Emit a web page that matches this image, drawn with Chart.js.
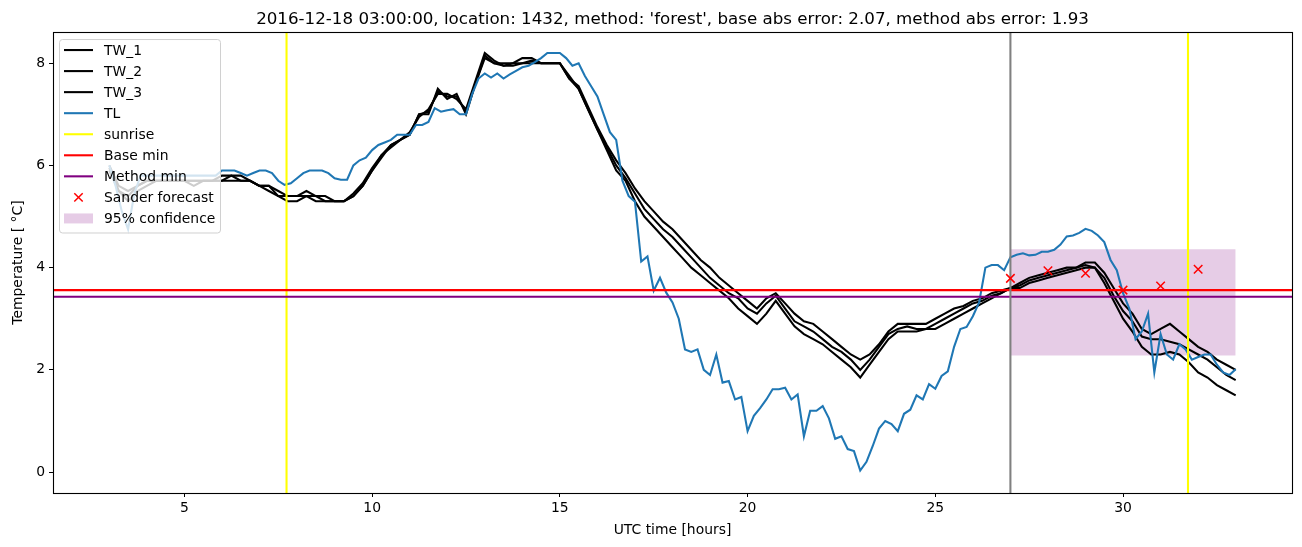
<!DOCTYPE html>
<html>
<head>
<meta charset="utf-8">
<script src="https://cdn.jsdelivr.net/npm/chart.js@4/dist/chart.umd.min.js"></script>
<style>
  body { margin: 0; background: #fff; }
  #wrap { width: 1302px; height: 547px; }
</style>
</head>
<body>
<div id="wrap"><canvas id="chart"></canvas></div>
<script>
const titleText = "2016-12-18 03:00:00, location: 1432, method: 'forest', base abs error: 2.07, method abs error: 1.93";
const xLabel = "UTC time [hours]";
const yLabel = "Temperature [ °C]";
const FONT = "DejaVu Sans";
const LW = 2.08; // 1.5pt at 100 dpi

// TW series: 15 minute samples from 3h to 33h (12 per row = 3 hours)
const twStart = 3;
const twStep = 0.25;

const tw1 = [
  6.0, 5.6, 5.5, 5.6,   5.7, 5.7, 5.7, 5.7,   5.7, 5.7, 5.7, 5.7,   // 3-5
  5.8, 5.8, 5.7, 5.7,   5.6, 5.6, 5.5, 5.4,   5.4, 5.5, 5.4, 5.4,   // 6-8
  5.3, 5.3, 5.45, 5.65, 5.95, 6.2, 6.4, 6.5,  6.6, 7.0, 7.05, 7.45, // 9-11
  7.35, 7.35, 7.05, 7.6, 8.15, 8.0, 7.95, 8.0, 8.1, 8.1, 8.0, 8.0,  // 12-14
  8.0, 7.7, 7.55, 7.15, 6.75, 6.4, 6.1, 5.85, 5.55, 5.3, 5.1, 4.9,  // 15-17
  4.75, 4.55, 4.35, 4.15, 4.0, 3.8, 3.65, 3.5, 3.35, 3.2, 3.4, 3.5, // 18-20
  3.3, 3.1, 2.95, 2.9,  2.75, 2.6, 2.45, 2.3, 2.2, 2.3, 2.5, 2.75,  // 21-23
  2.9, 2.9, 2.9, 2.9,   3.0, 3.1, 3.2, 3.25,  3.35, 3.4, 3.5, 3.55, // 24-26
  3.6, 3.7, 3.8, 3.85,  3.9, 3.95, 4.0, 4.0,  4.1, 4.1, 3.9, 3.6,   // 27-29
  3.3, 3.1, 2.8, 2.7,   2.8, 2.9, 2.75, 2.6,  2.45, 2.35, 2.2, 2.1, // 30-32
  2.0
];
const tw2 = [
  5.95, 5.5, 5.4, 5.6,  5.7, 5.7, 5.7, 5.7,   5.7, 5.7, 5.7, 5.7,
  5.7, 5.8, 5.8, 5.7,   5.6, 5.6, 5.4, 5.4,   5.4, 5.4, 5.4, 5.3,
  5.3, 5.3, 5.4, 5.6,   5.9, 6.15, 6.4, 6.5,  6.65, 6.95, 7.1, 7.4,
  7.4, 7.3, 7.1, 7.65,  8.2, 8.05, 7.95, 7.95, 8.0, 8.05, 8.0, 8.0,
  8.0, 7.75, 7.5, 7.1,  6.7, 6.35, 6.0, 5.75, 5.45, 5.15, 4.95, 4.75,
  4.6, 4.4, 4.2, 4.0,   3.8, 3.65, 3.5, 3.4,  3.2, 3.1, 3.3, 3.45,
  3.2, 2.95, 2.85, 2.75, 2.6, 2.45, 2.35, 2.2, 2.0, 2.2, 2.45, 2.7,
  2.8, 2.85, 2.8, 2.8,  2.9, 3.0, 3.1, 3.2,   3.3, 3.35, 3.45, 3.5,
  3.6, 3.65, 3.75, 3.8, 3.85, 3.9, 3.95, 4.0, 4.05, 4.0, 3.8, 3.45,
  3.15, 2.95, 2.65, 2.6, 2.6, 2.55, 2.5, 2.4, 2.3, 2.2, 2.05, 1.9,
  1.8
];
const tw3 = [
  5.9, 5.5, 5.3, 5.5,   5.6, 5.7, 5.7, 5.7,   5.7, 5.6, 5.7, 5.7,
  5.7, 5.7, 5.7, 5.7,   5.6, 5.5, 5.4, 5.3,   5.3, 5.4, 5.3, 5.3,
  5.3, 5.3, 5.4, 5.6,   5.9, 6.2, 6.35, 6.5,  6.6, 7.0, 7.0, 7.5,
  7.3, 7.4, 7.0, 7.6,   8.1, 8.0, 8.0, 8.0,   8.0, 8.0, 8.0, 8.0,
  8.0, 7.7, 7.5, 7.1,   6.7, 6.3, 5.9, 5.7,   5.3, 5.0, 4.8, 4.6,
  4.4, 4.2, 4.0, 3.85,  3.7, 3.55, 3.4, 3.2,  3.05, 2.9, 3.1, 3.35,
  3.1, 2.85, 2.7, 2.6,  2.5, 2.35, 2.2, 2.05, 1.85, 2.1, 2.35, 2.6,
  2.75, 2.75, 2.75, 2.8, 2.8, 2.9, 3.0, 3.1,  3.2, 3.3, 3.4, 3.5,
  3.6, 3.6, 3.7, 3.75,  3.8, 3.85, 3.9, 3.95, 4.0, 4.0, 3.7, 3.35,
  3.0, 2.75, 2.45, 2.3, 2.3, 2.35, 2.3, 2.15, 1.95, 1.85, 1.7, 1.6,
  1.5
];

// TL series: 10 minute samples from 3h to 33h (6 per row = 1 hour)
const tlStart = 3;
const tlStep = 1 / 6;
const tl = [
  6.0, 5.6, 5.1, 4.75, 5.45, 5.8,    // 3
  5.8, 5.8, 5.8, 5.8, 5.8, 5.8,      // 4
  5.8, 5.8, 5.8, 5.8, 5.8, 5.8,      // 5
  5.9, 5.9, 5.9, 5.85, 5.8, 5.85,    // 6
  5.9, 5.9, 5.85, 5.7, 5.62, 5.65,   // 7
  5.75, 5.85, 5.9, 5.9, 5.9, 5.85,   // 8
  5.75, 5.72, 5.72, 6.0, 6.1, 6.15,  // 9
  6.3, 6.4, 6.45, 6.5, 6.6, 6.6,     // 10
  6.6, 6.79, 6.79, 6.85, 7.12, 7.05, // 11
  7.08, 7.1, 7.0, 7.0, 7.4, 7.7,     // 12
  7.8, 7.72, 7.8, 7.7, 7.78, 7.85,   // 13
  7.92, 7.95, 8.02, 8.1, 8.2, 8.2,   // 14
  8.2, 8.1, 7.95, 8.0, 7.75, 7.55,   // 15
  7.35, 7.0, 6.65, 6.5, 5.7, 5.4,    // 16
  5.29, 4.12, 4.22, 3.55, 3.8, 3.51, // 17
  3.32, 3.0, 2.4, 2.35, 2.4, 2.0,    // 18
  1.9, 2.3, 1.75, 1.78, 1.42, 1.47,  // 19
  0.8, 1.1, 1.25, 1.42, 1.62, 1.62,  // 20
  1.65, 1.42, 1.52, 0.7, 1.2, 1.2,   // 21
  1.29, 1.05, 0.65, 0.7, 0.45, 0.41, // 22
  0.03, 0.2, 0.51, 0.85, 1.0, 0.94,  // 23
  0.8, 1.14, 1.22, 1.5, 1.42, 1.72,  // 24
  1.63, 1.88, 1.97, 2.45, 2.8, 2.84, // 25
  3.05, 3.32, 4.0, 4.05, 4.05, 3.95, // 26
  4.2, 4.25, 4.28, 4.24, 4.25, 4.31, // 27
  4.31, 4.35, 4.45, 4.61, 4.63, 4.68,// 28
  4.76, 4.72, 4.63, 4.5, 4.15, 3.95, // 29
  3.5, 3.2, 2.6, 2.75, 3.1, 1.95,    // 30
  2.7, 2.3, 2.2, 2.5, 2.4, 2.2,      // 31
  2.25, 2.3, 2.3, 2.1, 1.95, 1.9,    // 32
  2.01                               // 33
];

const sunriseHours = [7.72, 31.73];
const forecastHour = 27;
const baseMin = 3.56;
const methodMin = 3.43;
const sanderHours = [27, 28, 29, 30, 31, 32];
const sanderValues = [3.79, 3.94, 3.89, 3.56, 3.64, 3.97];
const confHours = [27, 33];
const confLow = 2.28;
const confHigh = 4.36;

const xTicks = [5, 10, 15, 20, 25, 30];
const yTicks = [0, 2, 4, 6, 8];
const xRange = [1.5, 34.5];
const yRange = [-0.41, 8.61];

function series(vals, start, step) {
    return vals.map((v, i) => ({ x: start + i * step, y: v }));
}

// full height vertical lines, broken by null gaps
function vLines(xs) {
    const pts = [];
    xs.forEach((x, i) => {
        if (i > 0) pts.push({ x: x, y: null });
        pts.push({ x: x, y: yRange[0] }, { x: x, y: yRange[1] });
    });
    return pts;
}

function hLine(y) {
    return [{ x: xRange[0], y: y }, { x: xRange[1], y: y }];
}

const whiteBg = {
    id: "whiteBg",
    beforeDraw(chart) {
        const ctx = chart.ctx;
        ctx.save();
        ctx.fillStyle = "#fff";
        ctx.fillRect(0, 0, chart.width, chart.height);
        ctx.restore();
    }
};

const frame = {
    id: "frame",
    afterDatasetsDraw(chart) {
        const a = chart.chartArea;
        const ctx = chart.ctx;
        ctx.save();
        ctx.strokeStyle = "#000";
        ctx.lineWidth = 1.1;
        ctx.strokeRect(Math.round(a.left) + 0.5, Math.round(a.top) + 0.5,
            Math.round(a.right - a.left), Math.round(a.bottom - a.top));
        ctx.restore();
    }
};

// matplotlib style legend in the upper left of the axes
const legendBox = {
    id: "legendBox",
    afterDraw(chart) {
        const ctx = chart.ctx;
        const a = chart.chartArea;
        const items = chart.data.datasets.filter(d => !d.hideInLegend);
        const rowH = 21.05;
        const x0 = a.left + 6, y0 = a.top + 7;
        const w = 161, h = items.length * rowH + 4;

        ctx.save();
        ctx.beginPath();
        if (ctx.roundRect) ctx.roundRect(x0 + 0.5, y0 + 0.5, w, h, 3);
        else ctx.rect(x0 + 0.5, y0 + 0.5, w, h);
        ctx.fillStyle = "rgba(255,255,255,0.8)";
        ctx.fill();
        ctx.strokeStyle = "#d0d0d0";
        ctx.lineWidth = 1;
        ctx.stroke();

        ctx.font = "13.9px '" + FONT + "'";
        ctx.textBaseline = "middle";
        ctx.textAlign = "left";
        items.forEach((d, i) => {
            const y = y0 + 11 + i * rowH;
            const hx0 = x0 + 5, hx1 = x0 + 34;
            if (d.legendType === "marker") {
                const cx = (hx0 + hx1) / 2, r = 4.2;
                ctx.strokeStyle = d.pointBorderColor;
                ctx.lineWidth = 1.5;
                ctx.beginPath();
                ctx.moveTo(cx - r, y - r); ctx.lineTo(cx + r, y + r);
                ctx.moveTo(cx - r, y + r); ctx.lineTo(cx + r, y - r);
                ctx.stroke();
            } else if (d.legendType === "patch") {
                ctx.fillStyle = d.backgroundColor;
                ctx.fillRect(hx0, y - 5, hx1 - hx0, 10);
            } else {
                ctx.strokeStyle = d.borderColor;
                ctx.lineWidth = LW;
                ctx.beginPath();
                ctx.moveTo(hx0, y); ctx.lineTo(hx1, y);
                ctx.stroke();
            }
            ctx.fillStyle = "#000";
            ctx.fillText(d.label, x0 + 45, y + 1);
        });
        ctx.restore();
    }
};

const ctx = document.getElementById("chart").getContext("2d");
new Chart(ctx, {
    type: "line",
    data: {
        datasets: [
            { label: "TW_1", data: series(tw1, twStart, twStep), borderColor: "#000000", order: 10 },
            { label: "TW_2", data: series(tw2, twStart, twStep), borderColor: "#000000", order: 9 },
            { label: "TW_3", data: series(tw3, twStart, twStep), borderColor: "#000000", order: 8 },
            { label: "TL", data: series(tl, tlStart, tlStep), borderColor: "#1f77b4", order: 7 },
            { label: "sunrise", data: vLines(sunriseHours), borderColor: "#ffff00", spanGaps: false, order: 6 },
            { label: "Base min", data: hLine(baseMin), borderColor: "#ff0000", order: 5 },
            { label: "Method min", data: hLine(methodMin), borderColor: "#800080", order: 4 },
            {
                label: "Sander forecast",
                data: sanderHours.map((h, i) => ({ x: h, y: sanderValues[i] })),
                showLine: false,
                pointStyle: "crossRot",
                pointRadius: 6,
                pointHoverRadius: 6,
                pointBorderColor: "#ff0000",
                pointBorderWidth: 1.5,
                borderColor: "#ff0000",
                legendType: "marker",
                order: 1
            },
            {
                label: "95% confidence",
                data: confHours.map(h => ({ x: h, y: confHigh })),
                fill: { value: confLow },
                backgroundColor: "rgba(128,0,128,0.2)",
                borderColor: "rgba(0,0,0,0)",
                borderWidth: 0,
                legendType: "patch",
                order: 20
            },
            { label: "", data: vLines([forecastHour]), borderColor: "#808080", hideInLegend: true, order: 3 }
        ]
    },
    options: {
        responsive: true,
        maintainAspectRatio: false,
        animation: false,
        events: [],
        layout: { padding: { left: 0, right: 10, top: 0, bottom: 0 } },
        elements: {
            line: { borderWidth: LW, tension: 0, fill: false },
            point: { radius: 0, hoverRadius: 0 }
        },
        plugins: {
            legend: { display: false },
            tooltip: { enabled: false },
            title: {
                display: true,
                text: titleText,
                fullSize: false,
                color: "#000",
                font: { family: FONT, size: 16.7, weight: "normal" },
                padding: { top: 10, bottom: 2 }
            }
        },
        scales: {
            x: {
                type: "linear",
                min: xRange[0],
                max: xRange[1],
                afterFit: s => { s.height = 54; },
                afterBuildTicks: s => { s.ticks = xTicks.map(v => ({ value: v })); },
                ticks: { color: "#000", font: { family: FONT, size: 13.9 }, padding: 3, maxRotation: 0, autoSkip: false },
                grid: { display: true, drawOnChartArea: false, drawTicks: true, tickLength: 4, color: "#000" },
                border: { display: true, color: "#000", width: 1 },
                title: { display: true, text: xLabel, color: "#000", font: { family: FONT, size: 13.9 }, padding: { top: 0, bottom: 8 } }
            },
            y: {
                type: "linear",
                min: yRange[0],
                max: yRange[1],
                afterFit: s => { s.width = 53; },
                afterBuildTicks: s => { s.ticks = yTicks.map(v => ({ value: v })); },
                ticks: { color: "#000", font: { family: FONT, size: 13.9 }, padding: 4, autoSkip: false },
                grid: { display: true, drawOnChartArea: false, drawTicks: true, tickLength: 4, color: "#000" },
                border: { display: true, color: "#000", width: 1 },
                title: { display: true, text: yLabel, color: "#000", font: { family: FONT, size: 13.9 }, padding: { top: 10, bottom: 0 } }
            }
        }
    },
    plugins: [whiteBg, frame, legendBox]
});
</script>
</body>
</html>
